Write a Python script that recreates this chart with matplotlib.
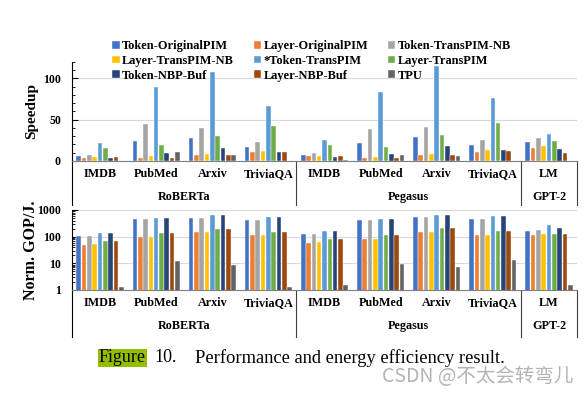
import matplotlib
matplotlib.use("Agg")
import matplotlib.pyplot as plt
import numpy as np

plt.rcParams['font.family'] = 'Liberation Serif'
plt.rcParams['font.weight'] = 'bold'

# categories
datasets = ["IMDB", "PubMed", "Arxiv", "TriviaQA",
            "IMDB", "PubMed", "Arxiv", "TriviaQA", "LM"]
models = ["RoBERTa", "Pegasus", "GPT-2"]
model_span = [(0, 3), (4, 7), (8, 8)]

series_names = ["Token-OriginalPIM", "Layer-OriginalPIM", "Token-TransPIM-NB",
                "Layer-TransPIM-NB", "*Token-TransPIM", "Layer-TransPIM",
                "Token-NBP-Buf", "Layer-NBP-Buf", "TPU"]
series_colors = ["#4472C4", "#ED7D31", "#A5A5A5", "#FFC000", "#5B9BD5",
                 "#70AD47", "#264478", "#9E480E", "#636363"]

# speedup (top panel)
spd_token_opim = [5.7, 24, 27.6, 16.7, 6.9, 21.5, 28.9, 19.1, 23.2]
spd_layer_opim = [4, 4, 6.9, 10.6, 5.7, 3.7, 7.3, 11.4, 16.3]
spd_token_nb = [7.7, 44.7, 39.4, 23.2, 9.3, 38.6, 40.7, 26, 27.6]
spd_layer_nb = [5.3, 5.7, 8.1, 12.6, 6.5, 4.5, 8.5, 13, 17.9]
spd_token_tp = [21.5, 90, 107.7, 66.3, 26, 83.7, 115, 76, 33.3]
spd_layer_tp = [15.4, 19.9, 30.5, 42.7, 19.5, 16.7, 31.7, 46, 24.4]
spd_token_buf = [3.3, 9.3, 16.3, 11.4, 4.5, 8.5, 18.3, 13, 14.2]
spd_layer_buf = [4.9, 4.2, 6.9, 11.4, 5.7, 4, 7.7, 12.2, 9.3]
spd_tpu = [0.4, 10.6, 6.9, 0.3, 1.2, 7.3, 6.1, 0.3, 0.3]

# normalized GOP/J (bottom panel)
eff_token_opim = [107, 448, 510, 425, 126, 413, 537, 465, 170]
eff_layer_opim = [49, 97, 147, 112, 59, 84, 151, 112, 112]
eff_token_nb = [107, 448, 510, 425, 126, 413, 537, 465, 181]
eff_layer_nb = [52, 97, 147, 112, 62, 84, 151, 112, 123]
eff_token_tp = [134, 510, 642, 537, 161, 478, 676, 589, 274]
eff_layer_tp = [70, 134, 197, 151, 81, 112, 203, 161, 123]
eff_token_buf = [138, 510, 642, 537, 161, 478, 676, 589, 215]
eff_layer_buf = [70, 134, 197, 151, 81, 112, 203, 161, 123]
eff_tpu = [1.34, 12.3, 8.4, 1.34, 1.56, 9.1, 7.4, 13, 1.56]

speedup = [spd_token_opim, spd_layer_opim, spd_token_nb, spd_layer_nb,
           spd_token_tp, spd_layer_tp, spd_token_buf, spd_layer_buf, spd_tpu]
energy = [eff_token_opim, eff_layer_opim, eff_token_nb, eff_layer_nb,
          eff_token_tp, eff_layer_tp, eff_token_buf, eff_layer_buf, eff_tpu]

W, H = 587, 394
fig = plt.figure(figsize=(W / 100, H / 100), dpi=100)


def px_axes(left, top, right, bottom):
    return fig.add_axes([left / W, 1 - bottom / H, (right - left) / W, (bottom - top) / H])


ax1 = px_axes(72, 62, 577, 161)
ax2 = px_axes(72, 210, 577, 290)

x = np.arange(len(datasets))
slot = 0.095
bw = 0.083


def draw_panel(ax, data, ylabel, line_px, label_size):
    handles = []
    for j, (vals, c) in enumerate(zip(data, series_colors)):
        off = (j - 4) * slot
        b = ax.bar(x + off, vals, bw, color=c, edgecolor="white", linewidth=0.3,
                   zorder=3, label=series_names[j])
        handles.append(b)
    ax.set_xlim(-0.5, len(datasets) - 0.5)
    ax.set_xticks(x)
    ax.set_xticklabels(datasets, fontsize=8.7)
    ax.tick_params(axis="x", length=0, pad=5)
    ax.tick_params(axis="y", which="both", direction="in", labelsize=8.5, pad=8)
    ax.tick_params(axis="y", which="major", length=4, width=0.8)
    ax.tick_params(axis="y", which="minor", length=2.5, width=0.6)
    ax.grid(axis="y", color="#d9d9d9", linewidth=0.8, zorder=0)
    ax.set_axisbelow(True)
    for s in ["top", "right"]:
        ax.spines[s].set_visible(False)
    ax.spines["bottom"].set_color("#7f7f7f")
    ax.spines["left"].set_linewidth(0.8)
    ax.set_ylabel(ylabel, fontsize=label_size, fontweight="bold")
    ax.yaxis.set_label_coords(-0.066, 0.5)

    # group separators and group labels (multi-level category axis)
    h_ax = ax.get_position().height * H
    depth = -line_px / h_ax
    tr = ax.get_xaxis_transform()
    for xs in [-0.5, 3.5, 7.5, 8.5]:
        ax.plot([xs, xs], [0, depth], transform=tr,
                color="black" if xs == -0.5 else "#404040", lw=0.8, clip_on=False)
    for name, (a, b) in zip(models, model_span):
        ax.annotate(name, xy=((a + b) / 2, 0), xycoords=tr, xytext=(0, -36),
                    textcoords="offset pixels", ha="center", va="center", fontsize=8.7)
    return handles


handles = draw_panel(ax1, speedup, "Speedup", 44, 11)
ax1.set_ylim(0, 120)
ax1.set_yticks([0, 50, 100])
ax1.set_yticks(np.arange(0, 121, 10), minor=True)

draw_panel(ax2, energy, "Norm. GOP/J.", 47, 11.5)
ax2.set_yscale("log")
ax2.set_ylim(1, 1000)
ax2.set_yticks([1, 10, 100, 1000])
ax2.set_yticklabels(["1", "10", "100", "1000"])

# legend filled row by row
order = [0, 3, 6, 1, 4, 7, 2, 5, 8]
fig.legend(handles=[handles[i] for i in order], loc="upper left",
           bbox_to_anchor=(106 / W, 1 - 34 / H),
           ncol=3, frameon=False, fontsize=8.9, handlelength=0.6, handleheight=0.6,
           handletextpad=0.2, columnspacing=1.6, labelspacing=0.22, borderpad=0)

# caption
fig.text(99 / W, 1 - 358 / H, "Figure", fontsize=13, fontweight="normal", va="center",
         bbox=dict(boxstyle="square,pad=0.05", fc="#95bd00", ec="none"))
fig.text(154 / W, 1 - 358 / H, "10.", fontsize=13, fontweight="normal", va="center")
fig.text(195 / W, 1 - 358 / H, "Performance and energy efficiency result.",
         fontsize=13.3, fontweight="normal", va="center")
fig.text(573 / W, 1 - 376 / H, "CSDN @不太会转弯儿", fontsize=14, color="#b4b4b4",
         ha="right", va="center", fontweight="normal",
         family=["Noto Sans CJK SC", "DejaVu Sans"])

fig.savefig("out.png", dpi=100)
